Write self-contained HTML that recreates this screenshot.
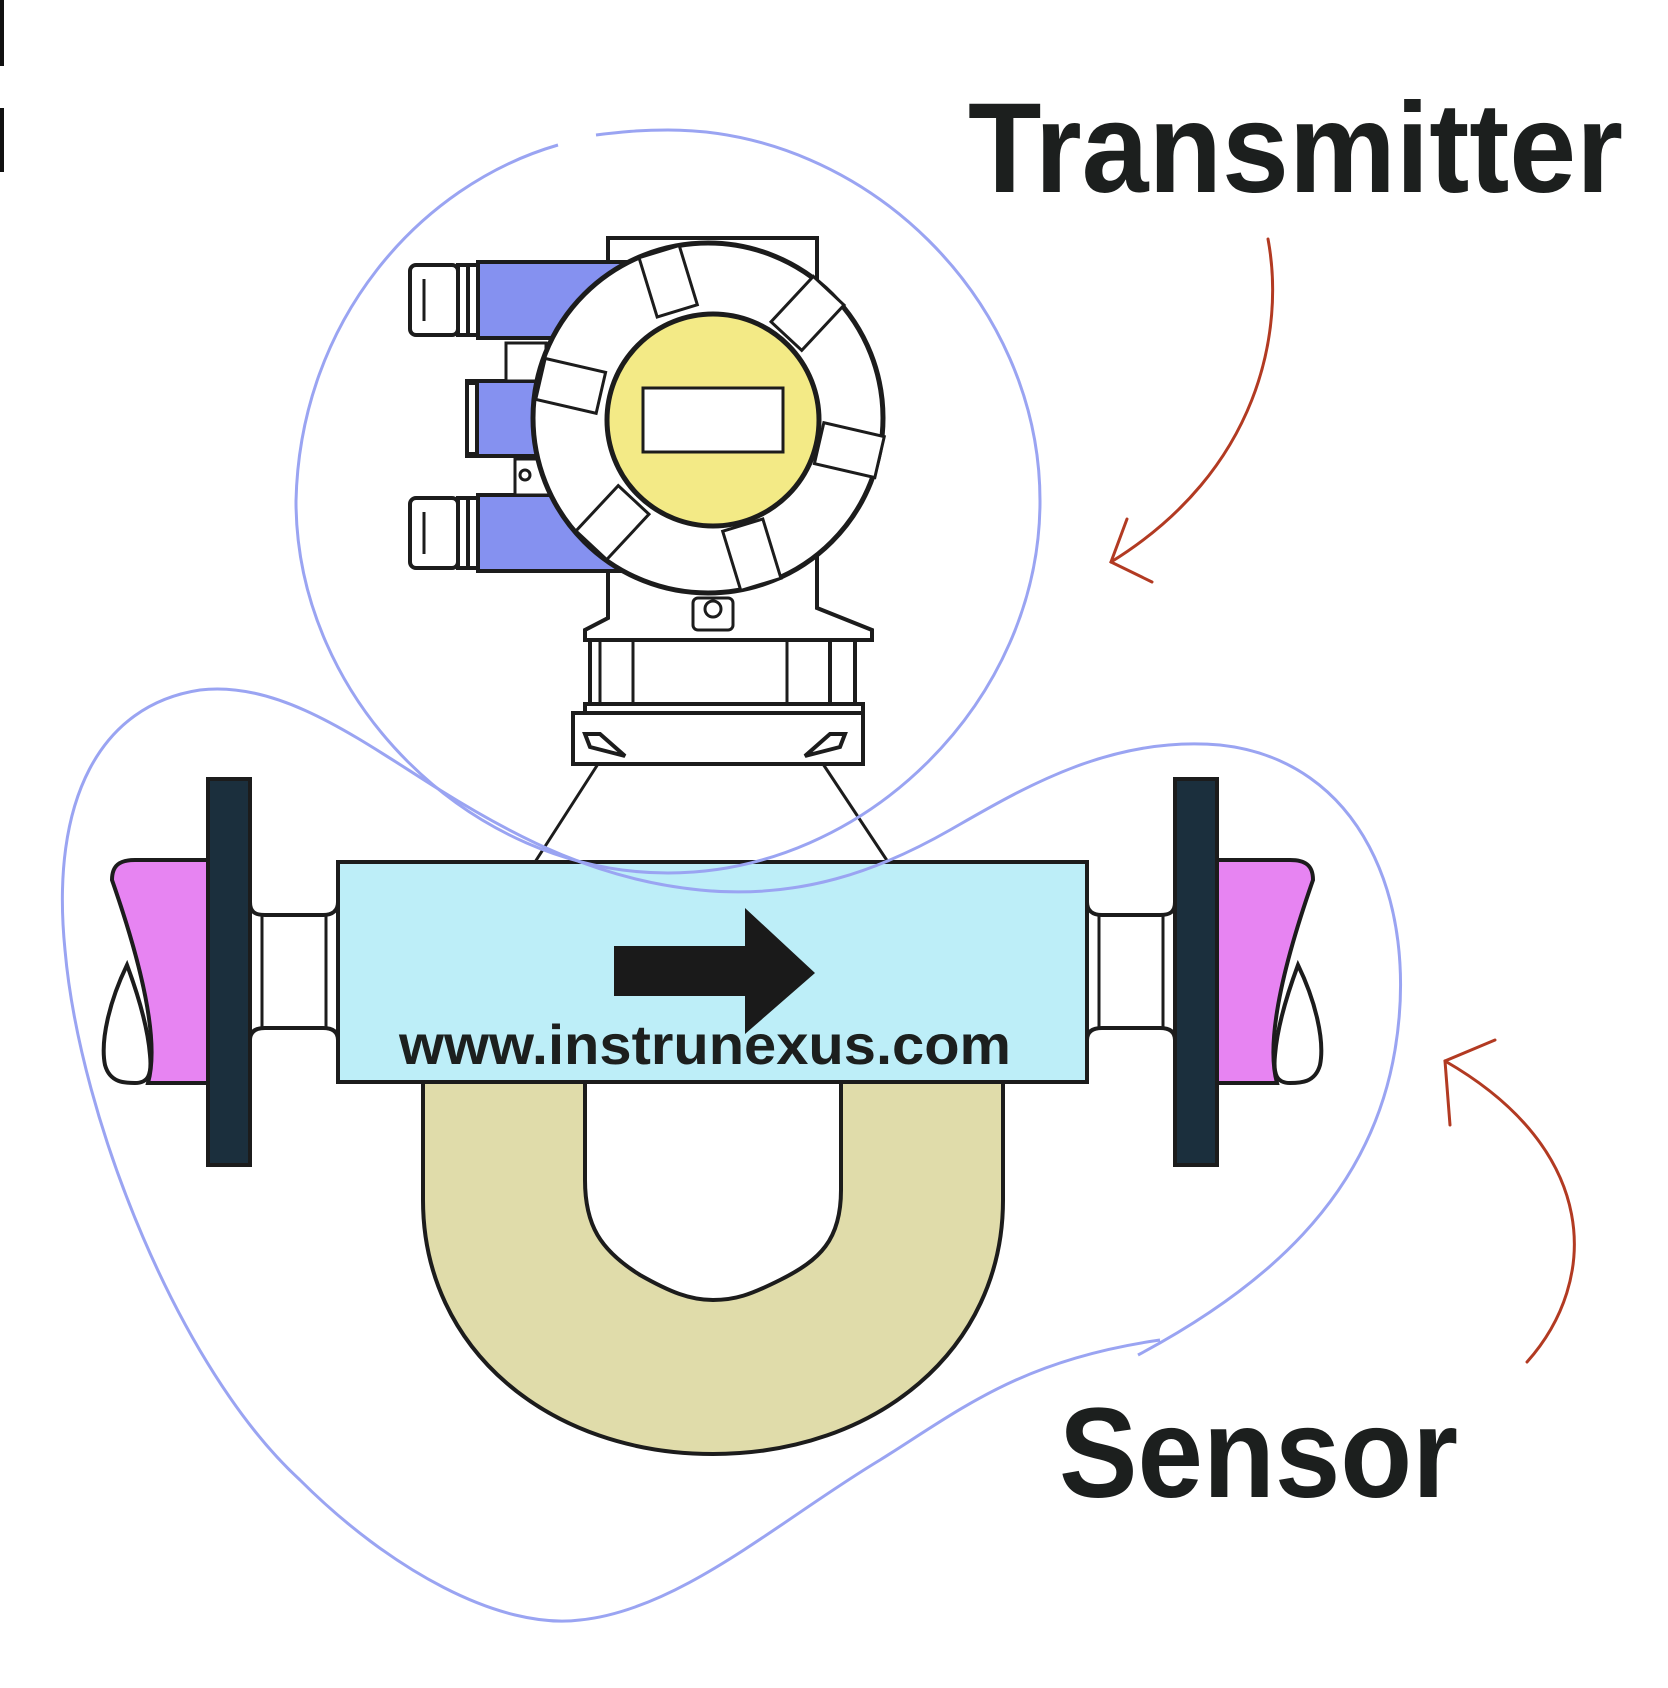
<!DOCTYPE html>
<html><head><meta charset="utf-8"><style>
html,body{margin:0;padding:0;background:#fff;}
svg{display:block;}
text{font-family:"Liberation Sans",sans-serif;font-weight:bold;fill:#1c1f1e;}
</style></head><body>
<svg width="1668" height="1688" viewBox="0 0 1668 1688" xmlns="http://www.w3.org/2000/svg">
<rect width="1668" height="1688" fill="#fff"/>
<rect x="0" y="0" width="4" height="66" fill="#111"/>
<rect x="0" y="108" width="4" height="64" fill="#111"/>

<!-- U tube -->
<path d="M423,1082 L423,1200 C423,1350 550,1454 713,1454 C876,1454 1003,1350 1003,1200 L1003,1082 L841,1082 L841,1190 C841,1240 820,1260 780,1280 C750,1295 735,1300 713,1300 C690,1300 670,1292 640,1275 C600,1250 585,1225 585,1180 L585,1082 Z" fill="#e0dcaa" stroke="#1c1c1c" stroke-width="4"/>

<!-- left side -->
<path d="M112,880 C112,865 120,860 135,860 L208,860 L208,1083 L148,1083 C160,1040 140,960 112,880 Z" fill="#e784f2" stroke="#1c1c1c" stroke-width="4"/>
<path d="M127,965 C110,1000 100,1040 105,1065 C110,1083 125,1083 135,1083 C148,1083 152,1075 150,1055 C148,1030 140,1000 127,965 Z" fill="#fff" stroke="#1c1c1c" stroke-width="4"/>
<rect x="208" y="779" width="42" height="386" fill="#1b2f3d" stroke="#1c1c1c" stroke-width="4"/>
<path d="M250,902 C250,912 255,915 265,915 L323,915 C333,915 338,910 338,902 L338,1040 C338,1032 333,1028 323,1028 L265,1028 C255,1028 250,1032 250,1040 Z" fill="#fff" stroke="#1c1c1c" stroke-width="4"/>
<line x1="262" y1="916" x2="262" y2="1027" stroke="#1c1c1c" stroke-width="3"/>
<line x1="326" y1="916" x2="326" y2="1027" stroke="#1c1c1c" stroke-width="3"/>

<!-- right side (mirrored) -->
<g transform="translate(1425,0) scale(-1,1)">
<path d="M112,880 C112,865 120,860 135,860 L208,860 L208,1083 L148,1083 C160,1040 140,960 112,880 Z" fill="#e784f2" stroke="#1c1c1c" stroke-width="4"/>
<path d="M127,965 C110,1000 100,1040 105,1065 C110,1083 125,1083 135,1083 C148,1083 152,1075 150,1055 C148,1030 140,1000 127,965 Z" fill="#fff" stroke="#1c1c1c" stroke-width="4"/>
<rect x="208" y="779" width="42" height="386" fill="#1b2f3d" stroke="#1c1c1c" stroke-width="4"/>
<path d="M250,902 C250,912 255,915 265,915 L323,915 C333,915 338,910 338,902 L338,1040 C338,1032 333,1028 323,1028 L265,1028 C255,1028 250,1032 250,1040 Z" fill="#fff" stroke="#1c1c1c" stroke-width="4"/>
<line x1="262" y1="916" x2="262" y2="1027" stroke="#1c1c1c" stroke-width="3"/>
<line x1="326" y1="916" x2="326" y2="1027" stroke="#1c1c1c" stroke-width="3"/>
</g>

<!-- cone lines -->
<line x1="598" y1="764" x2="535" y2="862" stroke="#1c1c1c" stroke-width="3"/>
<line x1="823" y1="764" x2="888" y2="862" stroke="#1c1c1c" stroke-width="3"/>

<!-- body -->
<rect x="338" y="862" width="749" height="220" fill="#bdeef8" stroke="#1c1c1c" stroke-width="4"/>
<path d="M614,946 L745,946 L745,908 L815,973 L745,1034 L745,996 L614,996 Z" fill="#1a1a1a"/>
<text x="399" y="1064" font-size="56" textLength="612" lengthAdjust="spacingAndGlyphs">www.instrunexus.com</text>

<!-- transmitter -->
<path d="M608,238 L817,238 L817,608 L872,630 L872,640 L585,640 L585,630 L608,618 Z" fill="#fff" stroke="#1c1c1c" stroke-width="4"/>
<rect x="590" y="640" width="265" height="64" fill="#fff" stroke="#1c1c1c" stroke-width="4"/>
<line x1="600" y1="640" x2="600" y2="704" stroke="#1c1c1c" stroke-width="3"/>
<line x1="633" y1="640" x2="633" y2="704" stroke="#1c1c1c" stroke-width="3"/>
<line x1="787" y1="640" x2="787" y2="704" stroke="#1c1c1c" stroke-width="3"/>
<line x1="830" y1="640" x2="830" y2="704" stroke="#1c1c1c" stroke-width="4"/>
<rect x="585" y="704" width="278" height="9" fill="#fff" stroke="#1c1c1c" stroke-width="4"/>
<rect x="573" y="713" width="290" height="51" fill="#fff" stroke="#1c1c1c" stroke-width="4"/>
<path d="M585,734 L600,734 L625,756 L590,747 Z" fill="#fff" stroke="#1c1c1c" stroke-width="4"/>
<path d="M845,734 L830,734 L805,756 L840,747 Z" fill="#fff" stroke="#1c1c1c" stroke-width="4"/>
<rect x="693" y="598" width="40" height="32" rx="5" fill="#fff" stroke="#1c1c1c" stroke-width="3"/>
<circle cx="713" cy="609" r="8" fill="none" stroke="#1c1c1c" stroke-width="3"/>

<!-- glands -->
<rect x="478" y="262" width="150" height="76" fill="#8591f0" stroke="#1c1c1c" stroke-width="4"/>
<rect x="467" y="381" width="100" height="75" fill="#8591f0" stroke="#1c1c1c" stroke-width="4"/>
<rect x="478" y="495" width="150" height="76" fill="#8591f0" stroke="#1c1c1c" stroke-width="4"/>
<rect x="506" y="343" width="40" height="38" fill="#fff" stroke="#1c1c1c" stroke-width="3"/>
<rect x="515" y="459" width="35" height="36" fill="#fff" stroke="#1c1c1c" stroke-width="3"/>
<circle cx="525" cy="475" r="5" fill="none" stroke="#1c1c1c" stroke-width="3"/>
<g stroke="#1c1c1c" stroke-width="4" fill="#fff">
<rect x="410" y="265" width="48" height="70" rx="6"/><rect x="458" y="265" width="10" height="70"/><rect x="468" y="265" width="10" height="70"/>
<line x1="424" y1="279" x2="424" y2="321" stroke-width="3"/>
<rect x="410" y="498" width="48" height="70" rx="6"/><rect x="458" y="498" width="10" height="70"/><rect x="468" y="498" width="10" height="70"/>
<line x1="424" y1="512" x2="424" y2="554" stroke-width="3"/>
<rect x="467" y="383" width="10" height="71"/>
</g>

<!-- head circle -->
<circle cx="708" cy="418" r="175" fill="#fff" stroke="#1c1c1c" stroke-width="5"/>
<g fill="#fff" stroke="#1c1c1c" stroke-width="3">
<rect x="112" y="-21" width="62" height="42" transform="translate(710,418) rotate(-107)"/>
<rect x="112" y="-21" width="62" height="42" transform="translate(710,418) rotate(-47)"/>
<rect x="112" y="-21" width="62" height="42" transform="translate(710,418) rotate(13)"/>
<rect x="112" y="-21" width="62" height="42" transform="translate(710,418) rotate(73)"/>
<rect x="112" y="-21" width="62" height="42" transform="translate(710,418) rotate(133)"/>
<rect x="112" y="-21" width="62" height="42" transform="translate(710,418) rotate(193)"/>
</g>
<circle cx="713" cy="420" r="106" fill="#f3ea86" stroke="#1c1c1c" stroke-width="5"/>
<rect x="643" y="388" width="140" height="64" fill="#fff" stroke="#1c1c1c" stroke-width="3"/>

<!-- blue outlines -->
<path d="M558,145 C420,185 300,320 296,501 C296,700 470,873 668,873 C866,873 1040,700 1040,501 C1040,300 866,130 668,130 C640,130 620,132 596,135" fill="none" stroke="#9aa4f2" stroke-width="3"/>
<path d="M1138,1355 C1260,1290 1370,1200 1395,1050 C1420,900 1360,760 1220,745 C1110,735 1020,790 950,830 C880,870 800,900 700,890 C600,880 520,840 440,790 C360,740 280,680 200,690 C100,705 50,800 65,950 C80,1120 180,1370 300,1480 C390,1570 500,1630 580,1620 C680,1610 780,1520 880,1460 C960,1410 1020,1360 1160,1340" fill="none" stroke="#9aa4f2" stroke-width="3"/>

<!-- red arrows -->
<g fill="none" stroke="#b23a22" stroke-width="3" stroke-linecap="round">
<path d="M1268,239 C1285,330 1260,470 1111,562"/>
<path d="M1127,519 L1111,562 L1152,582"/>
<path d="M1527,1362 C1600,1280 1600,1150 1445,1061"/>
<path d="M1495,1040 L1445,1061 L1450,1125"/>
</g>

<text x="968" y="192" font-size="128" textLength="655" lengthAdjust="spacingAndGlyphs">Transmitter</text>
<text x="1059" y="1497" font-size="128" textLength="399" lengthAdjust="spacingAndGlyphs">Sensor</text>
</svg>
</body></html>
